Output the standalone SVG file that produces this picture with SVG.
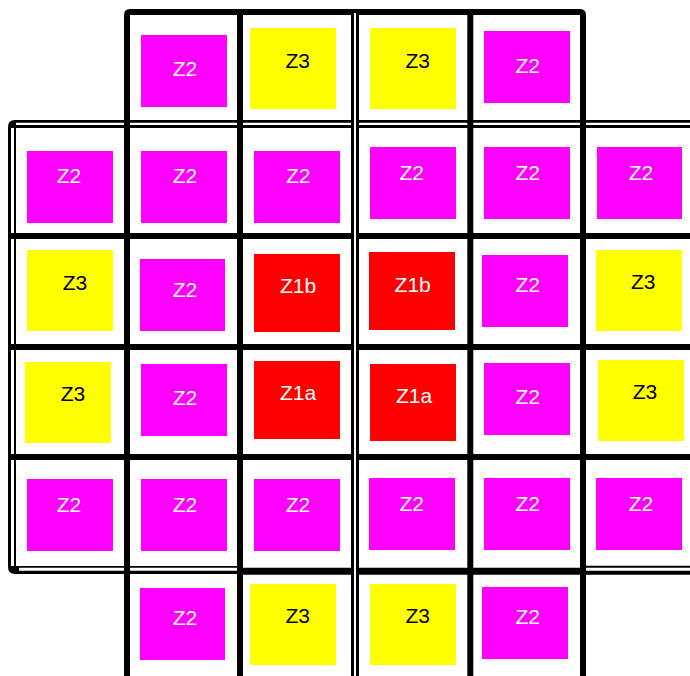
<svg xmlns="http://www.w3.org/2000/svg" width="690" height="676" viewBox="0 0 690 676">
<style>
.bg{fill:#ffffff}
.z2{fill:#ff00ff}
.z3{fill:#ffff00}
.z1{fill:#ff0000}
text{font-family:"Liberation Sans",Arial,sans-serif;font-size:21px;text-anchor:middle}
.tw{fill:#ffffff}
.tb{fill:#000000}
.blk{stroke:#000000;fill:none}
.wht{stroke:#ffffff;fill:none}
</style>
<rect class="bg" x="0" y="0" width="690" height="676"/>
<g id="connectors">
  <!-- outer double border (left / top / bottom sides) -->
  <path class="blk" stroke-width="8" d="M690,124 H15 Q12,124 12,127 V567 Q12,570 15,570 H240"/>
  <path class="blk" stroke-width="9" d="M583,570.2 H690"/>
  <line class="wht" stroke-width="2.3" x1="16" y1="123.8" x2="690" y2="123.8"/>
  <line class="wht" stroke-width="3" x1="12.5" y1="128" x2="12.5" y2="566"/>
  <line class="wht" stroke-width="3" x1="19" y1="569.2" x2="240" y2="569.2"/>
  <line class="wht" stroke-width="3" x1="583" y1="569.2" x2="690" y2="569.2"/>
  <!-- thick grid lines -->
  <path class="blk" stroke-width="6" d="M127,676 V15 Q127,12 130,12 H580 Q583,12 583,15 V676"/>
  <line class="blk" stroke-width="6" x1="240" y1="12" x2="240" y2="676"/>
  <line class="blk" stroke-width="6" x1="470.3" y1="12" x2="470.3" y2="676"/>
  <line class="blk" stroke-width="6" x1="8" y1="236" x2="690" y2="236"/>
  <line class="blk" stroke-width="6" x1="8" y1="347" x2="690" y2="347"/>
  <line class="blk" stroke-width="6" x1="8" y1="457" x2="690" y2="457"/>
  <line class="blk" stroke-width="7" x1="240" y1="571.2" x2="583" y2="571.2"/>
  <!-- middle double vertical -->
  <line class="blk" stroke-width="8" x1="355" y1="12" x2="355" y2="676"/>
  <line class="wht" stroke-width="2" x1="355" y1="13" x2="355" y2="676"/>
</g>
<g id="c0_1"><rect class="z2" x="141" y="35" width="86" height="72"/><text class="tw" x="185" y="76">Z2</text></g>
<g id="c0_2"><rect class="z3" x="250" y="28" width="86" height="81"/><text class="tb" x="297.7" y="68">Z3</text></g>
<g id="c0_3"><rect class="z3" x="370" y="28" width="86" height="81"/><text class="tb" x="417.7" y="68">Z3</text></g>
<g id="c0_4"><rect class="z2" x="484" y="31" width="86" height="72"/><text class="tw" x="527.7" y="73">Z2</text></g>

<g id="c1_0"><rect class="z2" x="27" y="151" width="86" height="72"/><text class="tw" x="69" y="183">Z2</text></g>
<g id="c1_1"><rect class="z2" x="141" y="151" width="86" height="72"/><text class="tw" x="185" y="183">Z2</text></g>
<g id="c1_2"><rect class="z2" x="254" y="151" width="86" height="72"/><text class="tw" x="298.3" y="183">Z2</text></g>
<g id="c1_3"><rect class="z2" x="370" y="147" width="86" height="72"/><text class="tw" x="411.7" y="180">Z2</text></g>
<g id="c1_4"><rect class="z2" x="484" y="147" width="86" height="72"/><text class="tw" x="527.7" y="180">Z2</text></g>
<g id="c1_5"><rect class="z2" x="597" y="147" width="85" height="72"/><text class="tw" x="641" y="180">Z2</text></g>

<g id="c2_0"><rect class="z3" x="27" y="250" width="86" height="81"/><text class="tb" x="75" y="290">Z3</text></g>
<g id="c2_1"><rect class="z2" x="140" y="259" width="85" height="72"/><text class="tw" x="185" y="296.7">Z2</text></g>
<g id="c2_2"><rect class="z1" x="254" y="254" width="86" height="78"/><text class="tw" x="298" y="293">Z1b</text></g>
<g id="c2_3"><rect class="z1" x="369" y="252" width="86" height="78"/><text class="tw" x="412.7" y="291.7">Z1b</text></g>
<g id="c2_4"><rect class="z2" x="482" y="255" width="86" height="72"/><text class="tw" x="527.7" y="292">Z2</text></g>
<g id="c2_5"><rect class="z3" x="596" y="250" width="86" height="81"/><text class="tb" x="643.3" y="289">Z3</text></g>

<g id="c3_0"><rect class="z3" x="25" y="362" width="86" height="81"/><text class="tb" x="73" y="400.7">Z3</text></g>
<g id="c3_1"><rect class="z2" x="141" y="364" width="86" height="72"/><text class="tw" x="185" y="405">Z2</text></g>
<g id="c3_2"><rect class="z1" x="254" y="361" width="86" height="78"/><text class="tw" x="298" y="400">Z1a</text></g>
<g id="c3_3"><rect class="z1" x="370" y="364" width="86" height="77"/><text class="tw" x="414" y="402.7">Z1a</text></g>
<g id="c3_4"><rect class="z2" x="484" y="363" width="86" height="72"/><text class="tw" x="527.7" y="404">Z2</text></g>
<g id="c3_5"><rect class="z3" x="598" y="360" width="86" height="81"/><text class="tb" x="645" y="399">Z3</text></g>

<g id="c4_0"><rect class="z2" x="27" y="479" width="86" height="72"/><text class="tw" x="69" y="512">Z2</text></g>
<g id="c4_1"><rect class="z2" x="141" y="479" width="86" height="72"/><text class="tw" x="185" y="512">Z2</text></g>
<g id="c4_2"><rect class="z2" x="254" y="479" width="86" height="72"/><text class="tw" x="298" y="512">Z2</text></g>
<g id="c4_3"><rect class="z2" x="369" y="478" width="86" height="72"/><text class="tw" x="411.7" y="511">Z2</text></g>
<g id="c4_4"><rect class="z2" x="484" y="478" width="86" height="72"/><text class="tw" x="527.7" y="511">Z2</text></g>
<g id="c4_5"><rect class="z2" x="596" y="478" width="86" height="72"/><text class="tw" x="641" y="511">Z2</text></g>

<g id="c5_1"><rect class="z2" x="140" y="588" width="85" height="72"/><text class="tw" x="185" y="625">Z2</text></g>
<g id="c5_2"><rect class="z3" x="250" y="584" width="86" height="81"/><text class="tb" x="297.7" y="623">Z3</text></g>
<g id="c5_3"><rect class="z3" x="370" y="584" width="86" height="81"/><text class="tb" x="417.7" y="623">Z3</text></g>
<g id="c5_4"><rect class="z2" x="482" y="587" width="86" height="72"/><text class="tw" x="527.7" y="624">Z2</text></g>
</svg>
